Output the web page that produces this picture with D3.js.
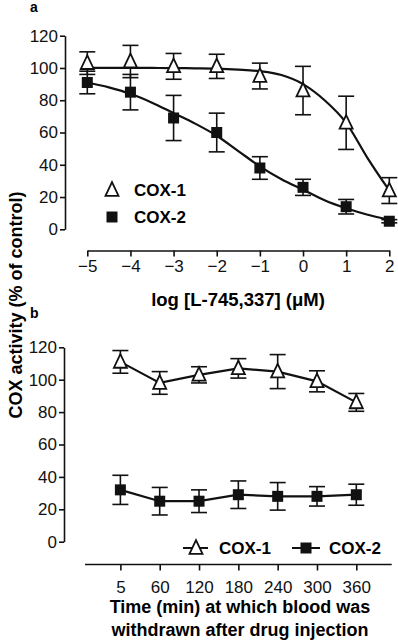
<!DOCTYPE html>
<html>
<head>
<meta charset="utf-8">
<script src="https://cdn.jsdelivr.net/npm/d3@7"></script>
<style>
  body { margin: 0; background: #fff; }
  svg { font-family: "Liberation Sans", Arial, sans-serif; }
  .tick text { font-size: 17px; fill: #111; }
  .domain, .tick line { stroke: #111; stroke-width: 1.6; }
</style>
</head>
<body>
<div id="chart"></div>
<script>
// ---------------------------------------------------------------------------
// Data

// panel a: concentration-response
var logConc = [-5, -4, -3, -2, -1, 0, 1, 2];
var cox1A = [103, 104, 101, 101, 95, 86, 66, 24];
var cox1AErr = [7, 10, 8, 7.5, 8, 15, 16.5, 8];
var cox2A = [91, 85, 69, 60, 38, 26, 14, 5];
var cox2AErr = [7, 11, 14, 12, 7, 5, 4.5, 1];

// fitted curves (read at half-log steps)
var fitX = [-5, -4.5, -4, -3.5, -3, -2.5, -2, -1.5, -1, -0.5, 0, 0.5, 1, 1.5, 2];
var fit1 = [100, 100, 100, 100, 99.9, 99.8, 99.6, 99, 98, 95.6, 90, 80, 66, 44, 24];
var fit2 = [91, 88, 84, 78.5, 72, 65.5, 58, 48.5, 39, 31, 24.5, 18, 13, 9, 6];

// panel b: time course
var times = ["5", "60", "120", "180", "240", "300", "360"];
var cox1B = [111, 98, 103, 107, 105, 99, 86];
var cox1BErr = [7, 7, 5, 6, 10.5, 6.5, 5.5];
var cox2B = [32, 25, 25, 29, 28, 28, 29];
var cox2BErr = [9, 8.5, 7, 8.5, 8.5, 6, 6.5];

var yTicks = [0, 20, 40, 60, 80, 100, 120];

// ---------------------------------------------------------------------------

var width = 398, height = 640;

var svg = d3.select("#chart").append("svg")
    .attr("width", width)
    .attr("height", height);

var xA = d3.scaleLinear().domain([-5, 2]).range([87.3, 389.3]);
var yA = d3.scaleLinear().domain([0, 120]).range([229.3, 35.7]);

var xB = d3.scalePoint().domain(times).range([85, 391.7]).padding(0.9);
var yB = d3.scaleLinear().domain([0, 120]).range([541.7, 347.3]);

function triangle(g, cx, cy) {
    var s = 13;
    g.append("path")
        .attr("d", "M" + cx + "," + (cy - s * 0.6) +
                   "L" + (cx + s / 2) + "," + (cy + s * 0.45) +
                   "L" + (cx - s / 2) + "," + (cy + s * 0.45) + "Z")
        .attr("fill", "#fff")
        .attr("stroke", "#111")
        .attr("stroke-width", 1.8);
}

function square(g, cx, cy) {
    var s = 11;
    g.append("rect")
        .attr("x", cx - s / 2).attr("y", cy - s / 2)
        .attr("width", s).attr("height", s)
        .attr("fill", "#111");
}

function errorBars(g, xs, ys, errs, x, y) {
    var cap = 8;
    xs.forEach(function(xv, i) {
        var px = x(xv);
        var top = y(ys[i] + errs[i]), bot = y(ys[i] - errs[i]);
        g.append("line").attr("x1", px).attr("x2", px).attr("y1", top).attr("y2", bot);
        g.append("line").attr("x1", px - cap).attr("x2", px + cap).attr("y1", top).attr("y2", top);
        g.append("line").attr("x1", px - cap).attr("x2", px + cap).attr("y1", bot).attr("y2", bot);
    });
    g.selectAll("line").attr("stroke", "#111").attr("stroke-width", 1.6);
}

// ---------------------------------------------------------------------------
// Panel a

svg.append("text").attr("x", 30).attr("y", 12)
    .attr("font-size", 14).attr("font-weight", "bold").text("a");

svg.append("g")
    .attr("transform", "translate(65,0)")
    .call(d3.axisLeft(yA).tickValues(yTicks).tickSize(5).tickSizeOuter(0).tickPadding(2));

svg.append("g")
    .attr("transform", "translate(0,250.5)")
    .call(d3.axisBottom(xA).tickValues(logConc).tickSize(6).tickSizeOuter(0).tickPadding(3)
        .tickFormat(d3.format("d")));

svg.append("text")
    .attr("x", 238).attr("y", 306)
    .attr("text-anchor", "middle")
    .attr("font-size", 18.5).attr("font-weight", "bold")
    .text("log [L-745,337] (\u03bcM)");

var lineA = d3.line()
    .x(function(d) { return xA(d[0]); })
    .y(function(d) { return yA(d[1]); })
    .curve(d3.curveMonotoneX);

svg.append("path")
    .attr("d", lineA(d3.zip(fitX, fit1)))
    .attr("fill", "none").attr("stroke", "#111").attr("stroke-width", 2.2);
svg.append("path")
    .attr("d", lineA(d3.zip(fitX, fit2)))
    .attr("fill", "none").attr("stroke", "#111").attr("stroke-width", 2.2);

var errA = svg.append("g");
errorBars(errA.append("g"), logConc, cox1A, cox1AErr, xA, yA);
errorBars(errA.append("g"), logConc, cox2A, cox2AErr, xA, yA);

var markA = svg.append("g");
logConc.forEach(function(c, i) {
    triangle(markA, xA(c), yA(cox1A[i]));
    square(markA, xA(c), yA(cox2A[i]));
});

// legend a
triangle(svg, 112, 190);
square(svg, 112, 217);
svg.append("text").attr("x", 134).attr("y", 196)
    .attr("font-size", 17).attr("font-weight", "bold").text("COX-1");
svg.append("text").attr("x", 134).attr("y", 223)
    .attr("font-size", 17).attr("font-weight", "bold").text("COX-2");

// ---------------------------------------------------------------------------
// Panel b

svg.append("text").attr("x", 30).attr("y", 318)
    .attr("font-size", 14).attr("font-weight", "bold").text("b");

svg.append("g")
    .attr("transform", "translate(64,0)")
    .call(d3.axisLeft(yB).tickValues(yTicks).tickSize(5).tickSizeOuter(0).tickPadding(2));

var xAxisB = svg.append("g")
    .attr("transform", "translate(0,564.5)")
    .call(d3.axisBottom(xB).tickSize(6).tickSizeOuter(0).tickPadding(10));
xAxisB.select(".domain").attr("d", "M85,0H391.7");
xAxisB.selectAll(".tick line").attr("stroke-width", 1).attr("stroke", "#666");

svg.append("text")
    .attr("x", 240).attr("y", 613)
    .attr("text-anchor", "middle")
    .attr("font-size", 18).attr("font-weight", "bold")
    .text("Time (min) at which blood was");
svg.append("text")
    .attr("x", 240).attr("y", 636)
    .attr("text-anchor", "middle")
    .attr("font-size", 18).attr("font-weight", "bold")
    .text("withdrawn after drug injection");

var lineB = d3.line()
    .x(function(d) { return xB(d[0]); })
    .y(function(d) { return yB(d[1]); });

svg.append("path")
    .attr("d", lineB(d3.zip(times, cox1B)))
    .attr("fill", "none").attr("stroke", "#111").attr("stroke-width", 2.2);
svg.append("path")
    .attr("d", lineB(d3.zip(times, cox2B)))
    .attr("fill", "none").attr("stroke", "#111").attr("stroke-width", 2.2);

var errB = svg.append("g");
errorBars(errB.append("g"), times, cox1B, cox1BErr, xB, yB);
errorBars(errB.append("g"), times, cox2B, cox2BErr, xB, yB);

var markB = svg.append("g");
times.forEach(function(t, i) {
    triangle(markB, xB(t), yB(cox1B[i]));
    square(markB, xB(t), yB(cox2B[i]));
});

// legend b
var legB = svg.append("g");
legB.append("line").attr("x1", 183).attr("x2", 208).attr("y1", 548).attr("y2", 548)
    .attr("stroke", "#111").attr("stroke-width", 2);
triangle(legB, 196, 548);
legB.append("text").attr("x", 219).attr("y", 554)
    .attr("font-size", 17).attr("font-weight", "bold").text("COX-1");
legB.append("line").attr("x1", 292).attr("x2", 320).attr("y1", 548).attr("y2", 548)
    .attr("stroke", "#111").attr("stroke-width", 2);
square(legB, 306, 548);
legB.append("text").attr("x", 329).attr("y", 554)
    .attr("font-size", 17).attr("font-weight", "bold").text("COX-2");

// shared y title
svg.append("text")
    .attr("transform", "translate(22,305) rotate(-90)")
    .attr("text-anchor", "middle")
    .attr("font-size", 18).attr("font-weight", "bold")
    .text("COX activity (% of control)");
</script>
</body>
</html>
